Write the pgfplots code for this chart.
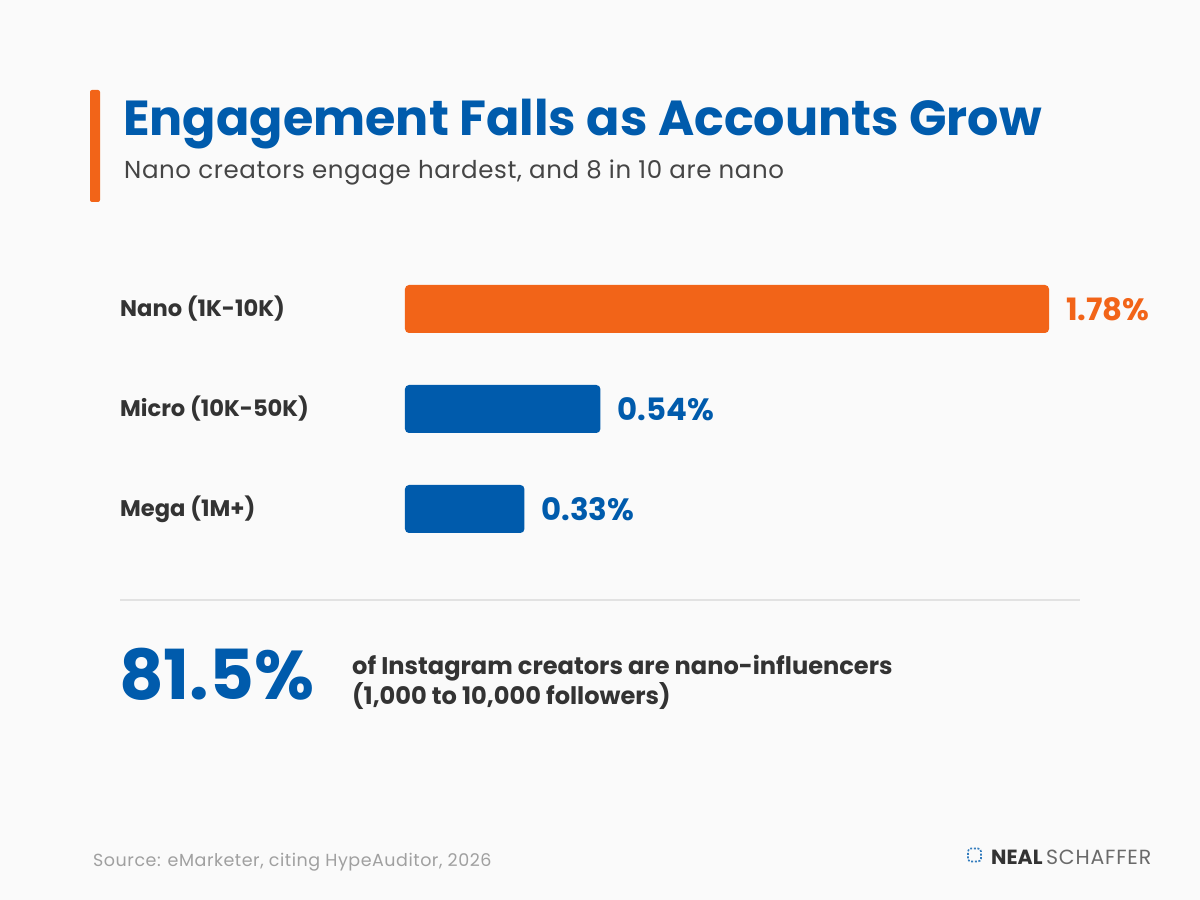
\documentclass[border=0pt]{standalone}
\usepackage{pgfplots}
\pgfplotsset{compat=1.18}
\usepackage{fontspec}
\setmainfont{Poppins}
\definecolor{bg}{HTML}{FAFAFA}
\definecolor{brandblue}{HTML}{005BAC}
\definecolor{brandorange}{HTML}{F26418}
\definecolor{ink}{HTML}{333333}
\definecolor{subink}{HTML}{454545}
\definecolor{muted}{HTML}{A0A0A0}
\definecolor{rule}{HTML}{E2E2E2}
\begin{document}
\begin{tikzpicture}[x=1pt,y=1pt]
% canvas
\fill[bg] (0pt,0pt) rectangle (1200pt,900pt);
% title block
\fill[brandorange, rounded corners=2pt] (90pt,698pt) rectangle (100pt,810pt);
\node[anchor=base west, inner sep=0, text=brandblue, font=\fontsize{49.2}{52}\selectfont\bfseries] at (123pt,764pt) {Engagement Falls as Accounts Grow};
\node[anchor=base west, inner sep=0, text=subink, font=\fontsize{24.5}{27}\selectfont\addfontfeatures{LetterSpace=2.5}] at (124pt,721pt) {Nano creators engage hardest, and 8 in 10 are nano};

% engagement rate by tier
\begin{axis}[
  at={(405pt,341pt)}, anchor=south west,
  scale only axis, width=644pt, height=300pt,
  xmin=0, xmax=1.78, ymin=-0.5, ymax=2.5,
  y dir=reverse,
  hide axis,
  xbar, bar width=48pt, bar shift=0pt,
  clip=false,
  /pgf/number format/assume math mode=true,
  nodes near coords={\pgfmathprintnumber[fixed,precision=2,fixed zerofill,assume math mode=true]{\pgfplotspointmeta}\%},
  nodes near coords style={anchor=west, inner sep=0, xshift=17pt, font=\fontsize{30.8}{33}\selectfont\bfseries},
  point meta=x,
]
\addplot[fill=brandorange, draw=none, rounded corners=4pt,
  every node near coord/.append style={text=brandorange}]
  coordinates {(1.78,0)};
\addplot[fill=brandblue, draw=none, rounded corners=4pt,
  every node near coord/.append style={text=brandblue}]
  coordinates {(0.54,1) (0.33,2)};
\node[anchor=west, inner sep=0, text=ink, font=\fontsize{22.6}{25}\selectfont\bfseries, xshift=-285pt] at (axis cs:0,0) {Nano (1K-10K)};
\node[anchor=west, inner sep=0, text=ink, font=\fontsize{22.6}{25}\selectfont\bfseries, xshift=-285pt] at (axis cs:0,1) {Micro (10K-50K)};
\node[anchor=west, inner sep=0, text=ink, font=\fontsize{22.6}{25}\selectfont\bfseries, xshift=-285pt] at (axis cs:0,2) {Mega (1M+)};
\end{axis}

% divider
\draw[rule, line width=1.2pt] (120pt,300pt) -- (1080pt,300pt);

% headline statistic
\node[anchor=base west, inner sep=0, text=brandblue, font=\fontsize{69}{72}\selectfont\bfseries] at (119pt,200pt) {81.5\%};
\node[anchor=base west, inner sep=0, text=ink, font=\fontsize{24.1}{26}\selectfont\bfseries] at (352pt,225pt) {of Instagram creators are nano-influencers};
\node[anchor=base west, inner sep=0, text=ink, font=\fontsize{24.1}{26}\selectfont\bfseries] at (352pt,195pt) {(1,000 to 10,000 followers)};

% footer
\node[anchor=base west, inner sep=0, text=muted, font=\fontsize{17.5}{19}\selectfont\addfontfeatures{LetterSpace=3}] at (93pt,33.5pt) {Source: eMarketer, citing HypeAuditor, 2026};
\draw[brandblue!80, line width=1.6pt, dash pattern=on 2pt off 1.6pt, rounded corners=3pt] (968pt,38.5pt) rectangle (981pt,51.5pt);
\node[anchor=base west, inner sep=0, font=\fontsize{20.5}{22}\selectfont] at (991pt,35pt) {\textcolor{ink}{\bfseries NEAL}\,\textcolor{subink!80}{\addfontfeatures{LetterSpace=4}SCHAFFER}};
\end{tikzpicture}
\end{document}
